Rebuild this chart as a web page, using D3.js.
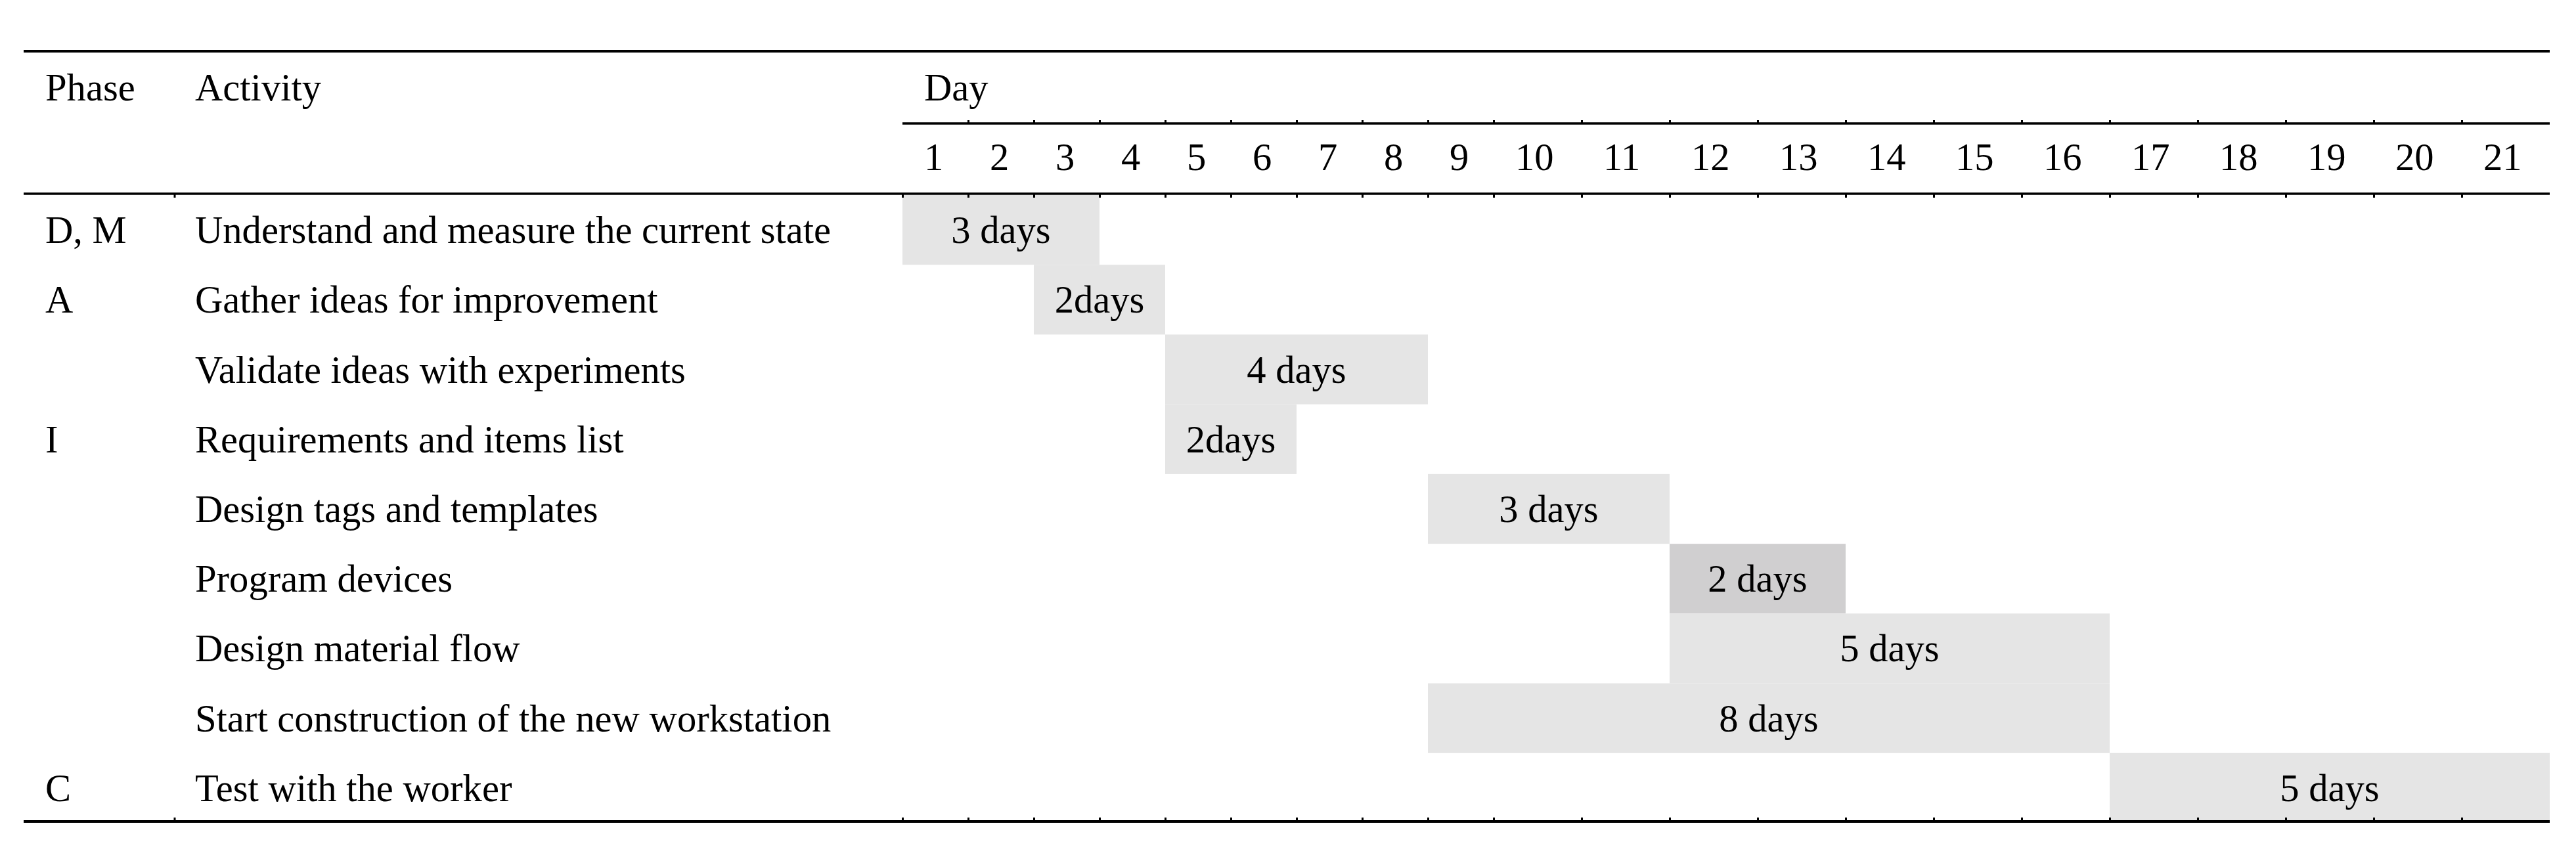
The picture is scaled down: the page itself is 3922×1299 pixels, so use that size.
<!DOCTYPE html>
<html>
<head>
<meta charset="utf-8">
<script src="https://cdn.jsdelivr.net/npm/d3@7"></script>
<style>
  body { margin: 0; background: #fff; }
  text { font-family: "Liberation Serif", "Times New Roman", serif; font-size: 58.6px; fill: #000; }
</style>
</head>
<body>
<svg id="chart" width="3922" height="1299"></svg>
<script>
// table content
var phases = ["D, M", "A", "", "I", "", "", "", "", "C"]
var activities = [
  "Understand and measure the current state",
  "Gather ideas for improvement",
  "Validate ideas with experiments",
  "Requirements and items list",
  "Design tags and templates",
  "Program devices",
  "Design material flow",
  "Start construction of the new workstation",
  "Test with the worker"
]
var startDays = [1, 3, 5, 5, 9, 12, 12, 9, 17]
var durations = [3, 2, 4, 2, 3, 2, 5, 8, 5]
var barLabels = ["3 days", "2days", "4 days", "2days", "3 days", "2 days", "5 days", "8 days", "5 days"]
var darkBars = [false, false, false, false, false, true, false, false, false]
var days = [1, 2, 3, 4, 5, 6, 7, 8, 9, 10, 11, 12, 13, 14, 15, 16, 17, 18, 19, 20, 21]

var tableLeft = 36, tableRight = 3882, activityCol = 266
var yTop = 78, yDay = 188, yHead = 295, yBottom = 1251

// day columns are wider from day 10 on (two digit labels)
var x = d3.scaleLinear().domain([1, 10, 22]).range([1374, 2274, 3882])
var y = d3.scaleBand().domain(activities).range([yHead, yBottom])

var svg = d3.select("#chart")

var rows = activities.map((a, i) => ({
  activity: a, phase: phases[i], start: startDays[i], dur: durations[i],
  label: barLabels[i], dark: darkBars[i]
}))

// bars
svg.append("g")
  .selectAll("rect")
  .data(rows)
  .enter()
  .append("rect")
  .attr("x", d => x(d.start))
  .attr("y", d => y(d.activity) + 2)
  .attr("width", d => x(d.start + d.dur) - x(d.start))
  .attr("height", y.bandwidth())
  .attr("fill", d => d.dark ? "#d0cfd0" : "#e5e5e5")

svg.append("g")
  .selectAll("text")
  .data(rows)
  .enter()
  .append("text")
  .attr("x", d => (x(d.start) + x(d.start + d.dur)) / 2)
  .attr("y", d => y(d.activity) + y.bandwidth() / 2 + 22)
  .style("text-anchor", "middle")
  .text(d => d.label)

// phase and activity columns
svg.append("g")
  .selectAll("text")
  .data(rows)
  .enter()
  .append("text")
  .attr("x", 69)
  .attr("y", d => y(d.activity) + y.bandwidth() / 2 + 22)
  .text(d => d.phase)

svg.append("g")
  .selectAll("text")
  .data(rows)
  .enter()
  .append("text")
  .attr("x", 297)
  .attr("y", d => y(d.activity) + y.bandwidth() / 2 + 22)
  .text(d => d.activity)

// header
svg.append("text").attr("x", 69).attr("y", 153).text("Phase")
svg.append("text").attr("x", 297).attr("y", 153).text("Activity")
svg.append("text").attr("x", x(1) + 33).attr("y", 153).text("Day")

svg.append("g")
  .selectAll("text")
  .data(days)
  .enter()
  .append("text")
  .attr("x", d => x(d) + 33)
  .attr("y", 259)
  .text(d => d)

// rules
function rule(x1, x2, yy, w) {
  svg.append("line")
    .attr("x1", x1).attr("x2", x2)
    .attr("y1", yy).attr("y2", yy)
    .attr("stroke", "#000")
    .attr("stroke-width", w)
}
rule(tableLeft, tableRight, yTop, 4)
rule(x(1), tableRight, yDay, 3.5)
rule(tableLeft, tableRight, yHead, 3.5)
rule(tableLeft, tableRight, yBottom, 4)

// column boundary ticks
function ticks(yy, size, values) {
  var g = svg.append("g")
    .attr("transform", "translate(0," + yy + ")")
    .call(d3.axisBottom(x).tickValues(values).tickSize(size).tickSizeOuter(0).tickFormat(""))
  g.select(".domain").remove()
  g.selectAll("line").attr("stroke", "#000").attr("stroke-width", 3)
}
ticks(yDay, -5, days.slice(1))
ticks(yHead, 6, days)
ticks(yBottom, -6, days)

// tick at the activity column edge
;[yHead, yBottom].forEach((yy, i) => {
  svg.append("line")
    .attr("x1", activityCol).attr("x2", activityCol)
    .attr("y1", yy).attr("y2", i == 0 ? yy + 6 : yy - 6)
    .attr("stroke", "#000").attr("stroke-width", 3)
})
</script>
</body>
</html>
